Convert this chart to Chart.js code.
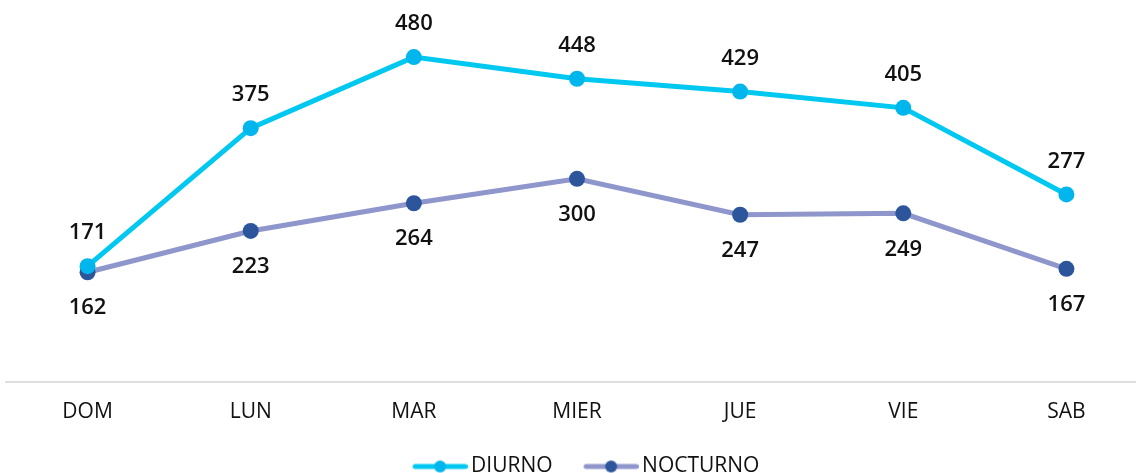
<!DOCTYPE html>
<html>
<head>
<meta charset="utf-8">
<script src="https://cdn.jsdelivr.net/npm/chart.js@4"></script>
<style>
    html, body { margin: 0; padding: 0; background: #fff; overflow: hidden; }
    #wrap { width: 1148px; height: 487px; }
</style>
</head>
<body>
<div id="wrap"><canvas id="chart"></canvas></div>
<script>
const days = ['DOM', 'LUN', 'MAR', 'MIER', 'JUE', 'VIE', 'SAB'];
const diurno = [171, 375, 480, 448, 429, 405, 277];
const nocturno = [162, 223, 264, 300, 247, 249, 167];

const FONT = '"Open Sans", "Noto Sans", sans-serif';

// legend swatch: short line with a dot in the middle, blank space on the left
const makeSwatch = (lineColor, dotColor) => {
    const c = document.createElement('canvas');
    c.width = 80;
    c.height = 16;
    const g = c.getContext('2d');
    g.strokeStyle = lineColor;
    g.lineWidth = 5;
    g.lineCap = 'round';
    g.beginPath();
    g.moveTo(27.5, 8);
    g.lineTo(77.5, 8);
    g.stroke();
    g.fillStyle = dotColor;
    g.beginPath();
    g.arc(52.5, 8, 6, 0, Math.PI * 2);
    g.fill();
    return c;
};

const valueLabels = {
    id: 'valueLabels',
    afterDatasetsDraw(chart) {
        const ctx = chart.ctx;
        ctx.save();
        ctx.font = '600 22px ' + FONT;
        ctx.fillStyle = '#111';
        ctx.textAlign = 'center';
        ctx.textBaseline = 'middle';
        chart.data.datasets.forEach((ds, i) => {
            const meta = chart.getDatasetMeta(i);
            meta.data.forEach((pt, j) => {
                const dy = i === 0 ? -33 : 36;
                ctx.fillText(ds.data[j], pt.x, pt.y + dy);
            });
        });
        ctx.restore();
    }
};

new Chart(document.getElementById('chart'), {
    type: 'line',
    data: {
        labels: days,
        datasets: [{
            label: 'DIURNO',
            data: diurno,
            borderColor: '#00c8f0',
            backgroundColor: '#00b6ec',
            pointBackgroundColor: '#00b6ec',
            pointBorderWidth: 0,
            pointRadius: 8,
            borderWidth: 5,
            tension: 0,
            clip: false
        }, {
            label: 'NOCTURNO',
            data: nocturno,
            borderColor: '#8f96cc',
            backgroundColor: '#2d559b',
            pointBackgroundColor: '#2d559b',
            pointBorderWidth: 0,
            pointRadius: 8,
            borderWidth: 5,
            tension: 0,
            clip: false
        }]
    },
    options: {
        responsive: true,
        maintainAspectRatio: false,
        animation: false,
        layout: { autoPadding: false, padding: { left: 6, right: 0, top: 3, bottom: 0 } },
        plugins: {
            tooltip: { enabled: false },
            legend: {
                position: 'bottom',
                labels: {
                    color: '#111',
                    font: { family: FONT, size: 21 },
                    usePointStyle: true,
                    pointStyleWidth: 66,
                    padding: 13,
                    generateLabels(chart) {
                        const swatches = [makeSwatch('#00c8f0', '#00b6ec'), makeSwatch('#8f96cc', '#2d559b')];
                        return chart.data.datasets.map((ds, i) => ({
                            text: ds.label,
                            pointStyle: swatches[i],
                            fillStyle: ds.backgroundColor,
                            strokeStyle: ds.borderColor,
                            lineWidth: 0,
                            fontColor: '#111',
                            hidden: false,
                            datasetIndex: i
                        }));
                    }
                }
            }
        },
        scales: {
            x: {
                offset: true,
                grid: { display: false, drawTicks: false },
                border: { color: '#dedede', width: 2 },
                ticks: {
                    color: '#111',
                    font: { family: FONT, size: 21 },
                    padding: 18
                }
            },
            y: {
                display: false,
                min: 0,
                max: 560
            }
        }
    },
    plugins: [valueLabels]
});
</script>
</body>
</html>
